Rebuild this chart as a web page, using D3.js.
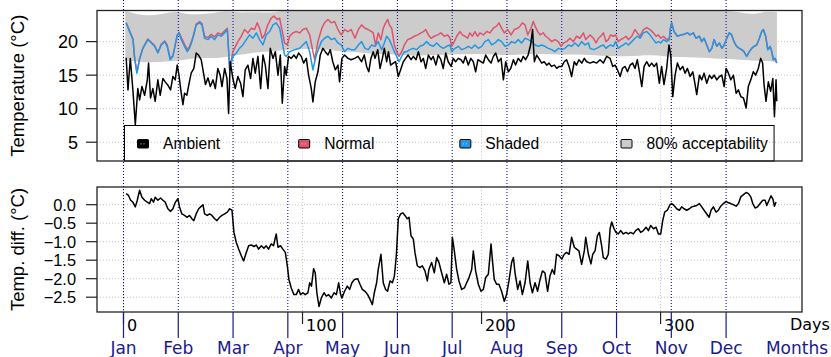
<!DOCTYPE html>
<html><head><meta charset="utf-8">
<script src="https://cdn.jsdelivr.net/npm/d3@7"></script>
<style>body{margin:0;background:#fff}svg{display:block}</style>
</head><body>
<svg id="c" width="831" height="357"></svg>
<script>
// ---------------- DATA ----------------
// [day, °C]
const ambient = [[1.5,17.6],[2.5,12.8],[3.8,17.5],[5.3,12.6],[6.6,7.6],[8.0,13.0],[9.0,11.3],[10.3,13.3],[11.8,12.0],[13.3,14.3],[14.0,16.8],[15.1,11.6],[16.4,13.0],[17.7,11.1],[19.2,14.3],[20.5,12.0],[22.0,14.5],[23.3,14.0],[24.8,13.5],[26.3,12.8],[27.6,14.8],[28.9,14.3],[30.0,16.5],[31.0,15.0],[31.9,13.0],[33.2,10.6],[34.1,12.3],[35.4,12.0],[36.5,13.6],[37.8,15.3],[39.3,16.0],[40.6,18.3],[41.9,18.0],[43.4,17.3],[44.9,15.0],[45.8,13.6],[47.2,14.6],[48.5,13.3],[50.0,14.3],[51.3,13.0],[52.7,16.0],[54.0,15.0],[55.0,13.3],[56.5,16.0],[57.8,14.5],[58.7,9.3],[59.6,17.0],[61.1,14.5],[62.4,13.0],[63.9,14.8],[65.4,13.8],[66.7,11.8],[68.0,15.8],[69.5,16.5],[71.0,14.5],[72.3,17.5],[73.6,15.3],[75.1,17.8],[76.6,13.0],[77.9,18.0],[79.2,16.5],[80.7,13.0],[82.0,19.0],[83.5,17.5],[84.8,18.5],[86.3,15.0],[87.6,18.0],[88.7,10.8],[90.0,16.3],[90.9,15.0],[92.2,17.8],[93.7,17.5],[95.2,18.0],[96.5,17.5],[97.8,18.3],[99.3,17.8],[100.6,16.8],[102.1,17.5],[103.4,15.0],[104.9,13.0],[105.8,11.0],[107.1,14.0],[108.6,15.5],[109.9,18.0],[111.4,19.0],[112.7,18.5],[114.2,18.0],[115.5,18.8],[116.9,17.0],[118.3,15.8],[119.8,16.5],[120.7,14.0],[122.0,17.5],[123.5,18.0],[125.4,17.5],[127.2,17.3],[129.1,17.5],
[131,17.8],[133,17.0],[134.5,18.0],[135.8,16.3],[137,15.5],[138.2,17.5],[139.5,18.5],[140.5,17.5],[142,18.8],[143.3,16.0],[144.6,17.5],[145.7,19.0],[147,17.0],[148,18.5],[149.2,16.5],[150.7,16.8],[152,17.0],[153.5,14.8],[154.8,15.8],[156.3,17.0],[157.6,17.5],[159,18.0],[160.6,17.3],[161.9,17.8],[163.4,17.3],[164.7,18.5],[166.2,17.0],[167.5,17.5],[168.8,16.0],[170.3,18.0],[171.8,17.3],[173,17.8],[174.5,16.5],[175.8,18.0],[177.3,17.3],[178.6,16.0],[180,18.3],[181.4,17.0],[183,16.3],[184.2,17.5],[185.5,17.0],[187,17.5],[188.5,17.3],[189.8,16.8],[191,17.8],[192.6,16.5],[194,17.5],[195.4,17.0],[196.7,15.5],[198,17.3],[199.7,17.0],[201,16.8],[202.3,18.0],[203.8,17.3],[205.3,16.8],[206.6,17.8],[207.9,18.3],[209.4,17.0],[210.9,17.5],[212.2,14.3],[213.5,17.0],[215,15.5],[216.3,16.0],[217.8,17.3],[219,16.5],[220.5,17.5],[222,17.0],[223.3,17.8],[224.6,17.3],[226,18.0],[227.4,19.5],[228.5,21.8],[229.5,17.0],[230.8,18.0],[232,17.5],[233.6,16.8],[235,17.0],[236.4,16.5],[237.7,16.8],[239,16.3],[240.7,16.5],[242,16.0],[243.3,16.3],[244.8,16.3],[246.2,17.0],[247.5,17.3],[248.9,16.3],[250.3,14.8],[251.8,17.0],[253,16.5],[254.4,17.3],[256,16.8],[257.4,17.5],[258.7,17.0],
[260.6,16.8],[262.5,17.0],[264.3,16.8],[266.2,17.3],[268,16.8],[269.9,17.8],[271.8,17.5],[273.3,16.3],[274.6,16.5],[275.9,15.8],[277.4,14.8],[278.7,16.0],[280.2,16.3],[281.5,15.5],[283,16.5],[284.4,16.8],[285.7,16.0],[287,17.3],[288.5,15.0],[289.5,13.3],[290.8,16.3],[292.3,17.0],[293.7,16.3],[295,16.8],[296.4,16.3],[297.8,16.8],[299.3,13.8],[300.6,16.3],[301.9,13.6],[303.4,16.0],[304.7,19.5],[305.7,18.0],[306.8,11.8],[308.1,15.0],[309.4,16.8],[310.9,15.8],[312.4,16.3],[313.7,15.3],[315,16.0],[316.5,14.8],[318,15.5],[319.3,13.6],[320.2,12.1],[321.7,15.0],[323,14.3],[324.3,15.3],[325.8,13.8],[327.3,15.0],[328.6,14.5],[329.9,15.0],[331.4,14.3],[332.9,14.8],[334.2,15.0],[335.5,13.3],[336.6,16.0],[337.9,15.3],[339.2,14.3],[340.7,15.0],[342.2,12.3],[343.5,12.8],[344.8,11.8],[346.3,11.6],[347.8,10.1],[349,13.3],[350.4,14.3],[351.8,15.5],[353.1,15.0],[354.6,16.0],[355.9,17.5],[357,16.8],[357.8,13.6],[358.9,11.1],[360.2,14.0],[361.5,12.6],[362.7,14.5],[363.6,8.8],[364.5,14.3],[364.9,11.1]];

const normal = [[1.5,22.8],[3.4,21.6],[5.3,20.4],[6.2,17.6],[7.5,15.4],[9,17.4],[10.8,19.0],[13.6,20.4],[15.5,19.9],[17.4,19.4],[19.2,18.4],[21.1,19.6],[23,20.1],[24.4,19.5],[26.1,17.5],[27.6,17.9],[28.5,19.0],[30,20.9],[31,21.4],[32.3,20.6],[34.1,19.6],[35.6,18.8],[36.9,19.3],[38.2,20.2],[39.3,21.2],[40.6,22.6],[42.5,23.0],[43.8,22.7],[45.3,20.8],[47.2,20.6],[49,21.1],[50.9,20.7],[52.7,21.3],[54.6,21.1],[56.5,21.6],[58,22.0],[59.3,16.0],
[61.1,18.5],[63.9,20.0],[65.8,20.8],[67.6,21.8],[69.5,21.3],[71.4,22.0],[73.2,21.8],[74.7,22.8],[76,22.0],[77.5,20.5],[78.8,21.0],[80.3,22.3],[82.5,23.5],[84,23.8],[85.9,23.3],[87.2,23.5],[88.1,22.3],[90,19.8],[91.5,19.5],[92.8,20.8],[94.7,21.3],[96.5,21.5],[98.4,21.3],[100.2,21.8],[102.1,22.0],[104,21.0],[105.8,18.5],[106.8,17.3],[108.6,20.0],[110.8,22.0],[112.3,22.8],[114.2,23.3],[116.1,22.8],[117.9,23.0],[119.8,21.8],[121.6,21.0],[123.5,21.8],[125.4,21.5],[127.2,21.8],[129.3,20.5],
[131.2,21.8],[133,22.5],[134.9,22.0],[136.7,21.8],[138.6,21.5],[139.5,21.3],[140.8,19.5],[142.3,21.3],[143.8,20.3],[145.1,22.0],[146.4,22.8],[147.6,23.3],[148.5,22.5],[149.8,22.0],[151.3,19.5],[152.6,18.5],[153.9,17.8],[155.4,18.5],[156.9,19.5],[158.7,20.3],[160.6,20.5],[162.4,20.8],[164.3,21.0],[166.2,21.3],[167.5,21.5],[168.8,21.8],[170.3,21.0],[171.8,20.5],[173.6,20.8],[175.5,21.0],[177.3,21.3],[179.2,20.8],[181.1,21.0],[182.4,20.5],[183.3,19.3],[184.8,20.0],[186.1,20.8],[188,21.5],[189.3,21.0],[190.8,20.8],[192.2,20.5],[193.5,21.3],[194.9,20.8],[196.3,21.5],[197.8,20.8],[199.1,21.3],[201,21.0],[202.9,21.5],[204.7,21.3],[206.6,22.0],[208.4,22.3],[209.7,22.8],[211.2,22.0],[212.7,21.3],[214.6,21.8],[216.5,21.0],[218.3,21.8],[220.2,22.0],[221.5,22.3],[222.8,22.8],[224.3,22.5],[225.8,21.0],[227.6,22.0],[228.9,23.0],[229.9,22.3],[231.4,21.5],[232.7,21.0],[234.5,21.3],[235.8,20.8],[237.3,20.5],[239.2,20.0],[241,20.3],[242.9,20.0],[244.4,19.3],[245.7,19.8],[247.5,20.0],[249.4,20.5],[251.3,20.0],[253.1,20.8],[255,20.5],[256.9,21.3],[258.2,20.3],
[260.6,21.0],[262.5,20.5],[264,19.8],[265.3,20.5],[266.6,20.8],[268.1,21.3],[269.5,20.0],[270.8,20.3],[272.1,21.0],[273.6,20.8],[274.9,21.0],[276.4,20.0],[277.7,20.3],[279.2,20.5],[280.7,20.8],[282,20.3],[283.9,20.8],[285.7,21.8],[287,21.3],[288.5,20.8],[290.4,21.8],[292.3,22.1],[294.1,21.8],[296,21.3],[297.5,20.8],[298.8,21.0],[300.1,20.5],[301.6,20.8],[303.4,20.3],[304.9,20.5],[305.5,22.0],[306.2,22.8],[307.5,21.5],[309.4,20.8],[311.3,21.0],[313.1,21.1],[315,21.3],[316.5,21.0],[318.3,21.3],[319.8,20.5],[321.7,20.8],[323,20.0],[324.3,20.5],[325.8,19.5],[327.3,18.5],[328.6,19.0],[329.9,20.3],[331.4,19.3],[332.9,19.8],[334.2,19.0],[335.5,19.5],[337,20.5],[338.4,21.3],[339.7,21.0],[341,20.0],[342.5,19.3],[344,19.0],[345.3,18.8],[346.6,18.5],[348.1,17.8],[349.6,18.5],[350.9,19.0],[352.2,19.3],[353.7,19.5],[355.2,20.5],[356.5,21.5],[357.4,21.8],[358.7,20.8],[359.9,18.8],[361.2,19.3],[362.1,18.5],[363,17.3],[363.9,17.5],[364.9,16.8]];

const shaded = [[1.5,22.8],[3.4,21.5],[5.3,20.3],[6.2,17.5],[7.5,15.3],[9,17.5],[10.8,19.0],[13.6,20.3],[15.5,19.8],[17.4,19.3],[19.2,18.3],[21.1,19.5],[23,20.0],[24.4,19.3],[26.1,17.3],[27.6,17.8],[28.5,19.0],[30,21.0],[31,21.3],[32.3,20.3],[34.1,19.3],[35.6,18.5],[36.9,19.0],[38.2,20.0],[39.3,21.0],[40.6,22.5],[42.5,22.8],[43.8,22.5],[45.3,20.5],[47.2,20.3],[49,20.8],[50.9,20.3],[52.7,21.0],[54.6,20.8],[56.5,21.3],[58,21.8],[59.3,15.8],[61.1,17.8],[63,18.3],[64.8,19.0],[66.7,19.5],[68.6,20.3],[70.4,21.0],[72.3,20.5],[74.2,21.3],[76,20.3],[77.9,19.5],[79.7,21.0],[81.6,21.5],[83.5,22.5],[85.3,22.8],[87.2,22.0],[88.1,20.8],[90,18.0],[90.9,17.8],[92.8,18.5],[95.6,18.8],[98.4,19.0],[100.2,19.5],[102.1,20.0],[104,18.5],[105.8,15.8],[107.7,18.0],[110.5,20.0],[112.3,20.5],[114.2,20.8],[116.1,20.3],[117.9,20.5],[119.8,19.8],[121.6,19.5],[123.5,18.5],[125.4,19.0],[127.2,18.8],
[129.3,18.8],[131.2,19.5],[133,20.0],[134.9,19.0],[136.7,18.8],[138.6,19.5],[140.5,19.3],[142.3,20.0],[144.2,18.8],[145.7,19.8],[147,20.8],[148.5,20.3],[149.8,19.5],[151.3,18.5],[152.6,17.8],[153.9,17.0],[155.4,17.8],[156.9,18.5],[158.2,18.5],[160,18.8],[161.9,19.0],[163.7,18.8],[165.6,19.3],[167.5,19.5],[169.3,20.0],[171.2,19.5],[173.1,19.3],[174.9,19.8],[176.8,19.3],[178.6,19.0],[180.5,19.3],[182.4,19.5],[183.3,18.5],[185.2,19.0],[187,19.3],[188.9,18.8],[190.8,19.0],[192.6,19.3],[194.5,19.0],[196.3,19.5],[198.2,19.0],[200.1,19.3],[201.9,20.0],[203.8,20.3],[205.7,19.5],[207.5,19.8],[209.4,20.3],[211.2,20.0],[213.1,19.3],[215,19.5],[216.8,20.0],[218.7,19.8],[220.5,20.3],[222.4,19.8],[224.3,20.5],[226.1,20.3],[228,20.0],[229.9,19.5],[231.7,19.3],[233.6,19.5],[235.4,19.3],[237.3,19.0],[239.2,18.8],[241,18.5],[242.9,19.0],[244.8,18.8],[246.6,19.0],[248.5,19.5],[250.3,19.3],[252.2,19.8],[254.1,19.3],[255.9,20.0],[257.8,19.5],[259.7,19.8],
[260.6,19.0],[262.5,18.8],[264.3,19.0],[266.2,19.3],[268.1,19.5],[269.5,19.0],[270.8,19.3],[272.1,19.5],[273.6,19.3],[274.9,20.0],[276.4,19.0],[277.7,19.3],[279.2,19.5],[280.7,19.8],[282,19.5],[283.9,20.0],[285.7,20.5],[287,20.8],[288.5,20.5],[290.4,21.3],[292.3,21.5],[294.1,21.0],[296,20.3],[297.5,19.8],[298.8,20.0],[300.1,19.8],[301.6,20.3],[303.4,20.0],[304.9,20.3],[305.5,22.0],[306.2,22.8],[307.5,21.5],[309.4,20.8],[311.3,21.0],[313.1,21.1],[315,21.3],[316.5,21.0],[318.3,21.3],[319.8,20.5],[321.7,20.8],[323,20.0],[324.3,20.5],[325.8,19.5],[327.3,18.5],[328.6,19.0],[329.9,20.3],[331.4,19.3],[332.9,19.8],[334.2,19.0],[335.5,19.5],[337,20.5],[338.4,21.3],[339.7,21.0],[341,20.0],[342.5,19.3],[344,19.0],[345.3,18.8],[346.6,18.5],[348.1,17.8],[349.6,18.5],[350.9,19.0],[352.2,19.3],[353.7,19.5],[355.2,20.5],[356.5,21.5],[357.4,21.8],[358.7,20.8],[359.9,18.8],[361.2,19.3],[362.1,18.5],[363,17.3],[363.9,17.5],[364.9,16.8]];

// shaded - normal, °C
const diff = [[1.5,0.30],[2.8,0.25],[4,0.12],[5.2,0.07],[6.6,-0.06],[7.7,0.12],[9,0.39],[10.3,0.2],[11.8,0.12],[13.3,0.07],[14.6,0.03],[15.5,0.16],[16.8,0.07],[17.7,0.2],[19.2,0.12],[20.7,0.18],[22,0.12],[23.3,0.07],[24.8,-0.11],[26.3,-0.18],[27.6,-0.11],[29,0.07],[30.4,0.16],[31.3,-0.06],[32.6,-0.25],[34.1,-0.29],[35.6,-0.34],[36.9,-0.29],[38.2,-0.38],[39.3,-0.43],[40.6,-0.25],[42,-0.11],[43.1,-0.06],[44.4,0],[45.3,-0.25],[46.8,-0.29],[48.1,-0.25],[49.4,-0.29],[50.9,-0.38],[52.2,-0.43],[53.7,-0.34],[55,-0.29],[56.5,-0.25],[58,-0.2],[59.3,-0.11],[60.6,-0.15],[61.7,-0.75],[63,-1.02],[64.3,-1.2],[65.8,-1.38],[67.1,-1.52],[68.6,-1.29],[69.9,-1.11],[71.4,-1.09],[72.9,-1.13],[74.2,-1.09],[75.5,-1.2],[77,-1.11],[78.4,-1.18],[79.7,-1.11],[81,-1.2],[82.5,-1.06],[83.8,-1.11],[85.3,-0.79],[86.3,-1.15],[87.7,-1.11],[89,-1.2],[90.4,-1.29],[91.5,-1.65],[92.4,-2.02],[93.7,-2.25],[95.2,-2.43],[96.5,-2.43],[97.8,-2.29],[98.9,-2.43],[100.2,-2.38],[101.5,-2.43],[103,-2.38],[104,-2.11],[105,-2.2],[106.2,-1.73],[107.1,-1.84],[108,-2.38],[109.2,-2.75],[110.5,-2.52],[112,-2.38],[113.3,-2.47],[114.6,-2.43],[116.1,-2.52],[117.6,-2.38],[118.9,-2.43],[120.2,-2.11],[121.3,-2.43],[122,-2.52],[123.5,-2.34],[125,-2.2],[126.3,-2.29],[127.6,-2.11],[129,-2.02],
[130.8,-2.0],[132.1,-2.15],[133.4,-2.29],[134.9,-2.34],[136.4,-2.43],[137.7,-2.56],[139,-2.7],[140.1,-2.38],[141.4,-2.11],[142.3,-1.75],[143.8,-1.34],[145.1,-2.11],[146.4,-2.29],[147.5,-2.34],[148.9,-2.06],[150.2,-2.11],[151.3,-1.93],[152.4,-1.38],[153.5,-0.38],[154.8,-0.25],[156,-0.22],[157.2,-0.29],[158.5,-0.38],[159.5,-0.34],[160.6,-0.84],[161.9,-0.93],[162.8,-1.29],[164.1,-1.65],[165.6,-1.7],[166.9,-1.65],[168.4,-1.79],[169.7,-2.06],[170.6,-1.75],[172.1,-1.56],[173.6,-1.84],[174.9,-1.43],[176.2,-1.56],[177.7,-1.84],[179.2,-2.11],[180.5,-1.88],[181.8,-2.15],[182.9,-2.11],[183.7,-0.88],[184.8,-1.25],[186.1,-1.75],[187.4,-2.06],[188.9,-2.29],[190.4,-2.25],[191.7,-2.11],[193,-1.97],[194.5,-1.75],[195.4,-1.25],[196.7,-1.79],[198.2,-2.15],[199.7,-2.34],[201,-2.29],[202.3,-1.97],[203.8,-1.88],[205.3,-1.06],[206,-1.47],[207.1,-2.02],[208.4,-2.15],[209.7,-2.15],[211.2,-2.34],[212.7,-2.61],[214,-2.43],[215.3,-2.06],[216.8,-1.56],[217.8,-1.43],[218.7,-1.84],[220.2,-2.29],[221.5,-2.06],[222.8,-2.43],[224.3,-2.11],[225.8,-1.52],[227.1,-2.11],[228.4,-2.38],[229.9,-2.11],[231.3,-2.34],[232.7,-2.02],[234,-1.79],[235.4,-1.84],[236.9,-2.34],[238.2,-1.93],[239.5,-1.75],[240.7,-1.88],[241.9,-1.34],[243.3,-1.38],[244.8,-1.47],[246.2,-1.34],[247.5,-1.29],[248.9,-1.34],[250.3,-0.88],[251.8,-1.15],[253.1,-1.2],[254.4,-1.25],[255.9,-1.61],[257.4,-1.25],[258.2,-0.88],[259.7,-1.34],[261.1,-1.6],
[262.1,-1.34],[263.4,-1.25],[264.7,-0.84],[265.8,-0.75],[267.1,-1.11],[268,-1.43],[269.5,-1.47],[270.8,-1.34],[271.8,-0.65],[272.7,-0.47],[274,-0.65],[275.1,-0.75],[276.4,-0.79],[277.7,-0.7],[279.2,-0.79],[280.7,-0.75],[282,-0.79],[283.3,-0.75],[284.8,-0.79],[286.1,-0.7],[287.6,-0.65],[288.9,-0.75],[290.4,-0.7],[291.9,-0.61],[293.2,-0.7],[294.5,-0.56],[296,-0.65],[297.5,-0.61],[298.8,-0.79],[300.1,-0.79],[301.2,-0.43],[302.3,-0.2],[303.8,-0.15],[305.3,0],[306.2,0.03],[307.5,-0.02],[309,-0.11],[310.5,-0.15],[311.8,-0.06],[313.1,-0.11],[314.6,-0.15],[316.1,-0.11],[317.4,-0.06],[318.7,-0.04],[320.2,-0.02],[321.7,0.03],[323,-0.06],[324.3,-0.15],[325.8,-0.25],[327.1,-0.34],[328.2,-0.15],[329.5,-0.06],[331,-0.2],[332.3,-0.15],[333.6,-0.04],[335.1,0.03],[336.6,0.09],[337.9,0.05],[339.2,0.03],[340.7,0],[342.2,-0.04],[343.5,0.03],[344.8,0.21],[346.3,0.27],[347.8,0.33],[349.1,0.3],[350.4,0.21],[351.5,0.03],[352.8,-0.09],[354.1,-0.06],[355.6,0.03],[357.1,0.12],[358.4,0.12],[359.3,-0.02],[360.6,0.12],[361.7,0.24],[362.7,0.16],[363.6,-0.04],[364.5,0.07]];

// 80% acceptability band
const bandDays  = [1,8,15,22,29,36,43,50,57,64,71,78,85,92,99,106,113,120,127,134,141,148,155,162,169,176,183,190,197,204,211,218,225,232,239,246,253,260,267,274,281,288,295,302,309,316,323,330,337,344,351,358,365];
const bandUpper = [24.6,24.0,23.9,24.1,24.6,24.0,24.1,24.2,24.6,24.3,24.4,24.3,24.4,24.7,24.8,24.7,24.9,24.8,24.9,24.9,24.8,24.9,24.8,24.9,24.8,24.9,24.9,24.8,24.9,24.8,24.9,24.8,24.9,24.8,24.8,24.7,24.8,24.7,24.8,24.7,24.7,24.8,24.7,24.8,24.7,24.7,24.6,24.7,24.6,24.4,24.0,24.5,24.4];
const bandLower = [17.2,17.0,16.9,17.0,17.1,17.4,17.6,17.5,17.7,18.0,18.3,18.5,18.6,18.8,18.9,18.9,18.8,18.6,18.5,18.3,18.2,18.1,18.0,17.9,18.0,18.0,18.1,18.1,18.2,18.1,18.0,18.0,18.1,18.2,18.1,18.0,18.1,18.0,17.9,17.8,17.8,17.9,18.0,17.8,17.7,17.7,17.6,17.5,17.4,17.3,17.2,17.1,17.0];

const tempTicks = [5, 10, 15, 20];
const diffTicks = [0, -0.5, -1, -1.5, -2, -2.5];
const dayTicks  = [0, 100, 200, 300];
const daysLabelAt = 370;
const monthNames = ["Jan","Feb","Mar","Apr","May","Jun","Jul","Aug","Sep","Oct","Nov","Dec"];
const monthDays  = [0,30.6,61.2,91.8,122.4,153,183.6,214.2,244.8,275.4,306,336.6];
const monthsLabelAt = 376.2;
const legendItems = [
  {label:"Ambient", color:"#000000", dots:true},
  {label:"Normal", color:"#DF536B", dots:true},
  {label:"Shaded", color:"#2297E6", dots:true},
  {label:"80% acceptability", color:"#CCCCCC", dots:false}
];

// ---------------- DRAW ----------------
const svg = d3.select("#c");
const L = 97, R = 802;
const top1 = 10.5, bot1 = 161, top2 = 187, bot2 = 312;
const AX = "'Liberation Sans', Arial, Helvetica, sans-serif";
const MF = "'DejaVu Sans', Verdana, sans-serif";
const x = d3.scaleLinear().domain([-14.8, 379]).range([L, R]);
const yT = d3.scaleLinear().domain([2.2, 24.64]).range([bot1, top1]);
const yD = d3.scaleLinear().domain([-2.9, 0.478]).range([bot2, top2]);

const defs = svg.append("defs");
defs.append("clipPath").attr("id","cp1").append("rect").attr("x",L).attr("y",top1).attr("width",R-L).attr("height",bot1-top1);
defs.append("clipPath").attr("id","cp2").append("rect").attr("x",L).attr("y",top2).attr("width",R-L).attr("height",bot2-top2);

const gridCol = "#c4c4c4";
const g1 = svg.append("g");
g1.selectAll("line.h").data(tempTicks).join("line")
  .attr("x1",L).attr("x2",R).attr("y1",d=>yT(d)).attr("y2",d=>yT(d))
  .attr("stroke",gridCol).attr("stroke-dasharray","1 2");
g1.selectAll("line.v").data(dayTicks).join("line")
  .attr("x1",d=>x(d)).attr("x2",d=>x(d)).attr("y1",top1).attr("y2",bot1)
  .attr("stroke",gridCol).attr("stroke-dasharray","1 2");
const g2 = svg.append("g");
g2.selectAll("line.h").data(diffTicks).join("line")
  .attr("x1",L).attr("x2",R).attr("y1",d=>yD(d)).attr("y2",d=>yD(d))
  .attr("stroke",gridCol).attr("stroke-dasharray","1 2");
g2.selectAll("line.v").data(dayTicks).join("line")
  .attr("x1",d=>x(d)).attr("x2",d=>x(d)).attr("y1",top2).attr("y2",bot2)
  .attr("stroke",gridCol).attr("stroke-dasharray","1 2");

// band
const bandData = bandDays.map((d,i)=>({d, lo:bandLower[i], hi:bandUpper[i]}));
svg.append("path").attr("clip-path","url(#cp1)")
  .attr("d", d3.area().curve(d3.curveBasis).x(p=>x(p.d)).y0(p=>yT(p.lo)).y1(p=>yT(p.hi))(bandData))
  .attr("fill","#CCCCCC");

// month dotted lines
svg.append("g").selectAll("line").data(monthDays).join("line")
  .attr("x1",d=>x(d)).attr("x2",d=>x(d)).attr("y1",0).attr("y2",bot2)
  .attr("stroke","#00008B").attr("stroke-width",1).attr("stroke-dasharray","1 2");

// series lines
const lineT = d3.line().x(p=>x(p[0])).y(p=>yT(p[1]));
const gl = svg.append("g").attr("clip-path","url(#cp1)");
gl.append("path").attr("d",lineT(normal)).attr("fill","none").attr("stroke","#DF536B").attr("stroke-width",1.5).attr("stroke-linejoin","round");
gl.append("path").attr("d",lineT(shaded)).attr("fill","none").attr("stroke","#2297E6").attr("stroke-width",1.5).attr("stroke-linejoin","round");
gl.append("path").attr("d",lineT(ambient)).attr("fill","none").attr("stroke","#000").attr("stroke-width",1.5).attr("stroke-linejoin","round");

const lineD = d3.line().x(p=>x(p[0])).y(p=>yD(p[1]));
svg.append("g").attr("clip-path","url(#cp2)").append("path").attr("d",lineD(diff))
  .attr("fill","none").attr("stroke","#000").attr("stroke-width",1.5).attr("stroke-linejoin","round");

// legend
const lg = svg.append("g");
lg.append("rect").attr("x",124.5).attr("y",125.5).attr("width",x(363.4)-124.5).attr("height",bot1-125.5)
  .attr("fill","none").attr("stroke","#000").attr("stroke-width",1);
const legX = d3.scalePoint().domain(legendItems.map(d=>d.label)).range([137, 620.5]);
const li = lg.selectAll("g.it").data(legendItems).join("g").attr("transform",d=>`translate(${legX(d.label)},0)`);
li.append("rect").attr("x",0.5).attr("y",139.5).attr("width",11).attr("height",8.5)
  .attr("fill",d=>d.color).attr("stroke","#000").attr("stroke-width",1).attr("rx",1);
li.filter(d=>d.dots).append("line").attr("x1",3.5).attr("x2",9.5).attr("y1",143.8).attr("y2",143.8)
  .attr("stroke","#fff").attr("stroke-opacity",0.75).attr("stroke-width",1).attr("stroke-dasharray","1 2");
li.append("text").attr("x",26).attr("y",149).text(d=>d.label)
  .attr("font-family",AX).attr("font-size",15.6).attr("fill","#000");

// frames
svg.append("rect").attr("x",L).attr("y",top1).attr("width",R-L).attr("height",bot1-top1).attr("fill","none").attr("stroke","#222").attr("stroke-width",1.3);
svg.append("rect").attr("x",L).attr("y",top2).attr("width",R-L).attr("height",bot2-top2).attr("fill","none").attr("stroke","#222").attr("stroke-width",1.3);

// y axes
const yAx1 = svg.append("g");
yAx1.selectAll("line").data(tempTicks).join("line").attr("x1",L-11).attr("x2",L).attr("y1",d=>yT(d)).attr("y2",d=>yT(d)).attr("stroke","#222").attr("stroke-width",1.2);
yAx1.selectAll("text").data(tempTicks).join("text").attr("x",78).attr("y",d=>yT(d)).attr("dy","0.36em")
  .attr("text-anchor","end").attr("font-family",AX).attr("font-size",18).text(d=>d3.format("d")(d));
const yAx2 = svg.append("g");
yAx2.selectAll("line").data(diffTicks).join("line").attr("x1",L-11).attr("x2",L).attr("y1",d=>yD(d)).attr("y2",d=>yD(d)).attr("stroke","#222").attr("stroke-width",1.2);
yAx2.selectAll("text").data(diffTicks).join("text").attr("x",76).attr("y",d=>yD(d)).attr("dy","0.36em")
  .attr("text-anchor","end").attr("font-family",AX).attr("font-size",16.4).text(d=>d3.format(".1f")(d).replace("-","\u2212"));

// y labels
svg.append("text").attr("transform",`translate(24,${(top1+bot1)/2}) rotate(-90)`).attr("text-anchor","middle")
  .attr("font-family",AX).attr("font-size",18.5).text("Temperature (°C)");
svg.append("text").attr("transform",`translate(24,${(top2+bot2)/2}) rotate(-90)`).attr("text-anchor","middle")
  .attr("font-family",AX).attr("font-size",18.5).text("Temp. diff. (°C)");

// day axis
const dx = svg.append("g");
dx.selectAll("line").data(dayTicks).join("line").attr("x1",d=>x(d)).attr("x2",d=>x(d)).attr("y1",bot2).attr("y2",bot2+12).attr("stroke","#222").attr("stroke-width",1.2);
dx.selectAll("text").data(dayTicks).join("text").attr("x",d=>x(d)+3.5).attr("y",331)
  .attr("font-family",MF).attr("font-size",16).text(d=>d);
dx.append("text").attr("x",x(daysLabelAt)+4).attr("y",329.5).attr("font-family",MF).attr("font-size",16).text("Days");

// month axis
const mx = svg.append("g");
mx.selectAll("line").data(monthDays).join("line").attr("x1",d=>x(d)).attr("x2",d=>x(d)).attr("y1",bot2).attr("y2",338).attr("stroke","#1a1a8c").attr("stroke-width",1.2);
mx.selectAll("text").data(monthNames).join("text").attr("x",(d,i)=>x(monthDays[i])).attr("y",353.5)
  .attr("text-anchor","middle").attr("font-family",MF).attr("font-size",17).attr("fill","#1a1a8c").text(d=>d);
mx.append("text").attr("x",x(monthsLabelAt)).attr("y",353.5).attr("text-anchor","middle").attr("font-family",MF).attr("font-size",17).attr("fill","#1a1a8c").text("Months");
</script>
</body></html>
